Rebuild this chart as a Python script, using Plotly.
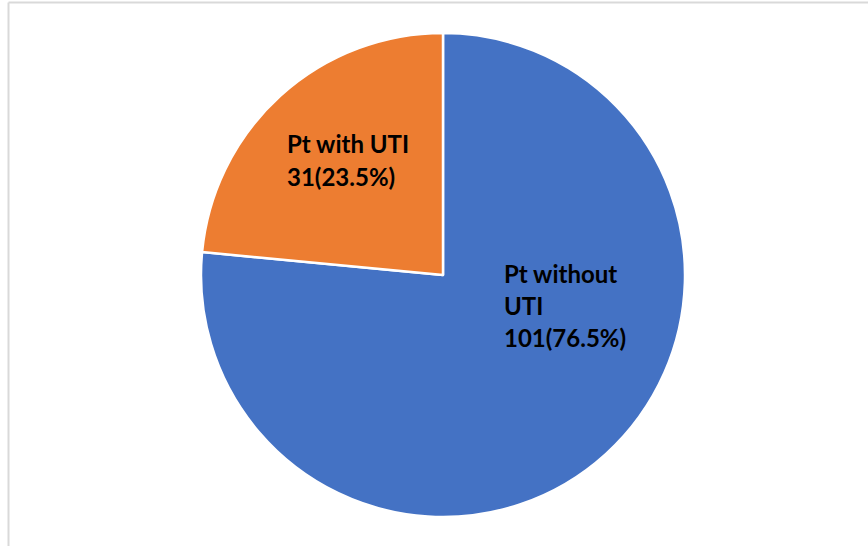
import plotly.graph_objects as go

categories = ["Pt without UTI", "Pt with UTI"]
counts = [101, 31]
percents = [76.5, 23.5]
colors = ["#4472C4", "#ED7D31"]
label_lines = [["Pt without", "UTI", "101(76.5%)"], ["Pt with UTI", "31(23.5%)"]]

W, H = 868, 546
cx, cy, r = 443, 275, 242

fig = go.Figure(go.Pie(
    labels=categories,
    values=counts,
    sort=False,
    direction="clockwise",
    rotation=0,
    textinfo="none",
    hoverinfo="label+value+percent",
    marker=dict(colors=colors, line=dict(color="white", width=2.5)),
    domain=dict(x=[(cx - r) / W, (cx + r) / W], y=[1 - (cy + r) / H, 1 - (cy - r) / H]),
    showlegend=False,
))

# label placement (pixel positions of line centers)
label_pos = [(502, [273, 305, 337]), (285, [144, 177])]
annotations = []
for lines, (lx, ys) in zip(label_lines, label_pos):
    for txt, ly in zip(lines, ys):
        annotations.append(dict(
            text="<b>" + txt + "</b>", x=lx / W, y=1 - ly / H, xref="paper", yref="paper",
            xanchor="left", yanchor="middle", showarrow=False,
            font=dict(family="Lato", size=24, color="black"),
        ))

shapes = [
    dict(type="line", xref="paper", yref="paper", x0=8.5 / W, x1=1, y0=1 - 2.5 / H, y1=1 - 2.5 / H,
         line=dict(color="#D9D9D9", width=2)),
    dict(type="line", xref="paper", yref="paper", x0=8.5 / W, x1=8.5 / W, y0=0, y1=1 - 2.5 / H,
         line=dict(color="#D9D9D9", width=2)),
]

fig.update_layout(
    width=W, height=H,
    margin=dict(l=0, r=0, t=0, b=0),
    paper_bgcolor="white", plot_bgcolor="white",
    annotations=annotations, shapes=shapes,
)

fig.write_html("out.html", config={"displayModeBar": False},
               post_script="document.body.style.margin='0';document.body.style.overflow='hidden';")
